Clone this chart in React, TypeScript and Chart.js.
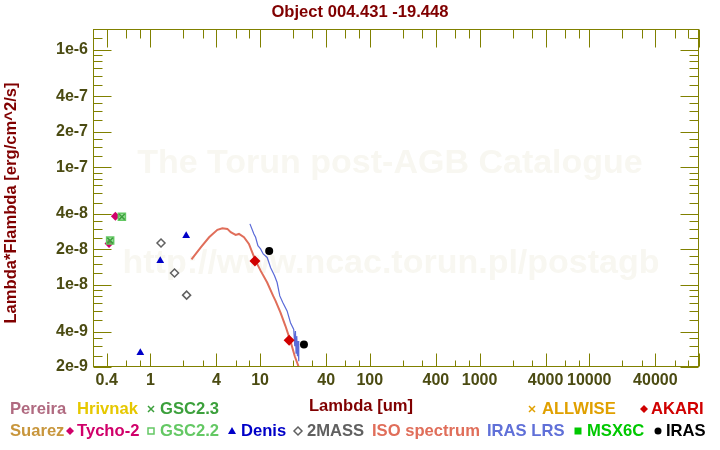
import React, { useEffect, useRef } from "react";
import { Chart, registerables } from "chart.js";

Chart.register(...registerables);

// ---------- text ----------
const TITLE = "Object 004.431 -19.448";
const X_TITLE = "Lambda [um]";
const Y_TITLE = "Lambda*Flambda [erg/cm^2/s]";
const WATERMARK_1 = "The Torun post-AGB Catalogue";
const WATERMARK_2 = "http://www.ncac.torun.pl/postagb";

// ---------- axes ----------
const X_MIN = 0.327;
const X_MAX = 1e5;
const Y_MIN = 2e-9;
const Y_MAX = 1.5e-6;
const X_TICK_VALUES = [0.4, 1, 4, 10, 40, 100, 400, 1000, 4000, 10000, 40000];
const X_TICK_TEXT = ["0.4", "1", "4", "10", "40", "100", "400", "1000", "4000", "10000", "40000"];
const Y_TICK_VALUES = [1e-6, 4e-7, 2e-7, 1e-7, 4e-8, 2e-8, 1e-8, 4e-9, 2e-9];
const Y_TICK_TEXT = ["1e-6", "4e-7", "2e-7", "1e-7", "4e-8", "2e-8", "1e-8", "4e-9", "2e-9"];
const X_MINOR_MULT = [2, 3, 6, 8];
const Y_MINOR_MULT = [1.25, 1.5, 1.75, 2.5, 3, 3.5, 5, 6, 7, 8, 9];

// ---------- photometry ----------
const tychoWave = [0.42, 0.48];
const tychoFlux = [2.25e-8, 3.84e-8];
const gsc22Wave = [0.43, 0.55];
const gsc22Flux = [2.38e-8, 3.79e-8];
const gsc23Wave = [0.43, 0.55];
const gsc23Flux = [2.38e-8, 3.79e-8];
const denisWave = [0.81, 1.23, 2.12];
const denisFlux = [2.64e-9, 1.6e-8, 2.62e-8];
const twoMassWave = [1.25, 1.66, 2.14];
const twoMassFlux = [2.27e-8, 1.26e-8, 8.17e-9];
const akariWave = [8.97, 18.4];
const akariFlux = [1.595e-8, 3.37e-9];
const irasWave = [12.1, 25.1];
const irasFlux = [1.94e-8, 3.11e-9];

// ---------- spectra ----------
const isoWave = [2.37, 2.88, 3.43, 4.08, 4.53, 5.03, 5.4, 5.99, 6.42, 7.13, 7.91, 8.48, 9.1, 10.1, 11.6, 13.15, 13.83, 15.35, 17.03, 18.92, 20.7, 22.5];
const isoFlux = [1.645e-8, 2.084e-8, 2.537e-8, 2.935e-8, 3.03e-8, 2.99e-8, 2.8e-8, 2.66e-8, 2.71e-8, 2.54e-8, 2.23e-8, 1.89e-8, 1.6e-8, 1.32e-8, 1.046e-8, 8.05e-9, 7.3e-9, 5.8e-9, 4.46e-9, 3.32e-9, 2.47e-9, 2.0e-9];
const lrsWave = [8.08, 8.78, 9.1, 9.55, 10.1, 10.67, 11.6, 12.45, 13.54, 14.29, 15.12, 16.1, 17.62, 18.92, 20.26, 20.7, 21.0, 21.26, 21.58, 21.9, 22.17, 22.5];
const lrsFlux = [3.3e-8, 2.71e-8, 2.54e-8, 2.15e-8, 2.02e-8, 1.83e-8, 1.71e-8, 1.406e-8, 1.194e-8, 1.046e-8, 8.05e-9, 7.06e-9, 6.0e-9, 4.76e-9, 4.18e-9, 3.01e-9, 4.04e-9, 2.62e-9, 3.66e-9, 2.47e-9, 3.32e-9, 2.24e-9];

const FONT = "'Liberation Sans', Arial, sans-serif";
const AXIS_COLOR = "#808000";
const TICK_TEXT_COLOR = "#4b4b12";
const TITLE_COLOR = "#800000";

const pts = (xs: number[], ys: number[]) => xs.map((x, i) => ({ x, y: ys[i] }));

function ticksFor(min: number, max: number, mults: number[]) {
  const out: number[] = [];
  for (let d = Math.floor(Math.log10(min)) - 1; d <= Math.ceil(Math.log10(max)); d++) {
    for (const m of mults) {
      const v = m * Math.pow(10, d);
      if (v >= min * 0.999 && v <= max * 1.001) out.push(v);
    }
  }
  return out;
}

function drawSymbol(ctx: CanvasRenderingContext2D, kind: string, x: number, y: number, color: string) {
  ctx.save();
  ctx.fillStyle = color;
  ctx.strokeStyle = color;
  ctx.lineWidth = 1.5;
  ctx.beginPath();
  if (kind === "cross") {
    ctx.moveTo(x - 3, y - 3); ctx.lineTo(x + 3, y + 3);
    ctx.moveTo(x + 3, y - 3); ctx.lineTo(x - 3, y + 3);
    ctx.stroke();
  } else if (kind === "diamond") {
    ctx.moveTo(x, y - 4); ctx.lineTo(x + 4, y); ctx.lineTo(x, y + 4); ctx.lineTo(x - 4, y); ctx.closePath();
    ctx.fill();
  } else if (kind === "hdiamond") {
    ctx.moveTo(x, y - 4); ctx.lineTo(x + 4, y); ctx.lineTo(x, y + 4); ctx.lineTo(x - 4, y); ctx.closePath();
    ctx.stroke();
  } else if (kind === "hsquare") {
    ctx.rect(x - 3, y - 3, 6, 6);
    ctx.stroke();
  } else if (kind === "square") {
    ctx.rect(x - 3.5, y - 3.5, 7, 7);
    ctx.fill();
  } else if (kind === "triangle") {
    ctx.moveTo(x, y - 4); ctx.lineTo(x + 4, y + 3); ctx.lineTo(x - 4, y + 3); ctx.closePath();
    ctx.fill();
  } else if (kind === "circle") {
    ctx.arc(x, y, 3.5, 0, Math.PI * 2);
    ctx.fill();
  }
  ctx.restore();
}

const decorPlugin = {
  id: "decor",
  beforeDatasetsDraw(chart: any) {
    const ctx: CanvasRenderingContext2D = chart.ctx;
    ctx.save();
    ctx.fillStyle = "#f8f7f1";
    ctx.font = `bold 34px ${FONT}`;
    ctx.textAlign = "center";
    ctx.textBaseline = "middle";
    ctx.fillText(WATERMARK_1, 390, 164);
    ctx.fillText(WATERMARK_2, 391, 264);
    ctx.restore();
  },
  afterDraw(chart: any) {
    const ctx: CanvasRenderingContext2D = chart.ctx;
    const xs = chart.scales.x;
    const ys = chart.scales.y;
    const { left, right, top, bottom } = chart.chartArea;
    const L = Math.round(left) + 0.5;
    const R = Math.round(right) - 0.5;
    const T = Math.round(top) + 0.5;
    const B = Math.round(bottom) - 0.5;
    ctx.save();
    ctx.strokeStyle = AXIS_COLOR;
    ctx.lineWidth = 1;
    ctx.strokeRect(L, T, R - L, B - T);
    ctx.beginPath();
    // x ticks
    const xMajor = ticksFor(X_MIN, X_MAX, [1, 4]);
    const xMinor = ticksFor(X_MIN, X_MAX, X_MINOR_MULT);
    for (const v of xMajor) {
      const p = Math.round(xs.getPixelForValue(v)) + 0.5;
      ctx.moveTo(p, B); ctx.lineTo(p, B - 13);
      ctx.moveTo(p, T); ctx.lineTo(p, T + 18);
    }
    for (const v of xMinor) {
      const p = Math.round(xs.getPixelForValue(v)) + 0.5;
      ctx.moveTo(p, B); ctx.lineTo(p, B - 6);
      ctx.moveTo(p, T); ctx.lineTo(p, T + 9);
    }
    // y ticks
    const yMajor = ticksFor(Y_MIN, Y_MAX, [1, 2, 4]);
    const yMinor = ticksFor(Y_MIN, Y_MAX, Y_MINOR_MULT);
    for (const v of yMajor) {
      const p = Math.round(ys.getPixelForValue(v)) + 0.5;
      ctx.moveTo(L, p); ctx.lineTo(L + 18, p);
      ctx.moveTo(R, p); ctx.lineTo(R - 18, p);
    }
    for (const v of yMinor) {
      const p = Math.round(ys.getPixelForValue(v)) + 0.5;
      ctx.moveTo(L, p); ctx.lineTo(L + 9, p);
      ctx.moveTo(R, p); ctx.lineTo(R - 9, p);
    }
    ctx.stroke();

    // tick labels
    ctx.fillStyle = TICK_TEXT_COLOR;
    ctx.font = `bold 16px ${FONT}`;
    ctx.textBaseline = "middle";
    ctx.textAlign = "center";
    X_TICK_VALUES.forEach((v, i) => {
      ctx.fillText(X_TICK_TEXT[i], xs.getPixelForValue(v), 381);
    });
    ctx.textAlign = "right";
    Y_TICK_VALUES.forEach((v, i) => {
      ctx.fillText(Y_TICK_TEXT[i], 88, ys.getPixelForValue(v));
    });

    // titles
    ctx.font = `bold 16.6px ${FONT}`;
    ctx.fillStyle = TITLE_COLOR;
    ctx.textAlign = "center";
    ctx.fillText(TITLE, 360, 12);
    ctx.fillText(X_TITLE, 361, 406);
    ctx.save();
    ctx.translate(11, 203);
    ctx.rotate(-Math.PI / 2);
    ctx.fillText(Y_TITLE, 0, 0);
    ctx.restore();

    // legend
    ctx.textAlign = "left";
    const row1 = 409;
    const row2 = 431;
    const txt = (s: string, x: number, y: number, c: string) => {
      ctx.fillStyle = c;
      ctx.fillText(s, x, y);
    };
    txt("Pereira", 10, row1, "#b06a80");
    txt("Hrivnak", 77, row1, "#e6c800");
    drawSymbol(ctx, "cross", 151, row1, "#3ca03c");
    txt("GSC2.3", 160, row1, "#3ca03c");
    drawSymbol(ctx, "cross", 532, row1, "#e0a000");
    txt("ALLWISE", 542, row1, "#e0a000");
    drawSymbol(ctx, "diamond", 644, row1, "#d00000");
    txt("AKARI", 651, row1, "#d00000");

    txt("Suarez", 10, row2, "#c8963c");
    drawSymbol(ctx, "diamond", 70, row2, "#d0006a");
    txt("Tycho-2", 77, row2, "#d0006a");
    drawSymbol(ctx, "hsquare", 151, row2, "#64c864");
    txt("GSC2.2", 160, row2, "#64c864");
    drawSymbol(ctx, "triangle", 232, row2, "#0000c8");
    txt("Denis", 241, row2, "#0000c8");
    drawSymbol(ctx, "hdiamond", 298, row2, "#606060");
    txt("2MASS", 307, row2, "#606060");
    txt("ISO spectrum", 372, row2, "#e06e5a");
    txt("IRAS LRS", 487, row2, "#6070d8");
    drawSymbol(ctx, "square", 578, row2, "#00c800");
    txt("MSX6C", 587, row2, "#00c800");
    drawSymbol(ctx, "circle", 658, row2, "#000000");
    txt("IRAS", 666, row2, "#000000");
    ctx.restore();
  },
};

export default function App() {
  const canvasRef = useRef<HTMLCanvasElement | null>(null);

  useEffect(() => {
    if (!canvasRef.current) return;
    const chart = new Chart(canvasRef.current, {
      type: "scatter",
      data: {
        datasets: [
          { label: "IRAS", data: pts(irasWave, irasFlux), pointStyle: "circle", pointRadius: 4, backgroundColor: "#000000", borderColor: "#000000", borderWidth: 0 },
          { label: "AKARI", data: pts(akariWave, akariFlux), pointStyle: "rectRot", pointRadius: 5.5, backgroundColor: "#d00000", borderColor: "#d00000", borderWidth: 0 },
          { label: "GSC2.3", data: pts(gsc23Wave, gsc23Flux), pointStyle: "crossRot", pointRadius: 4, backgroundColor: "#3ca03c", borderColor: "#3ca03c", borderWidth: 1.5 },
          { label: "GSC2.2", data: pts(gsc22Wave, gsc22Flux), pointStyle: "rect", pointRadius: 5, backgroundColor: "rgba(100,200,100,0.6)", borderColor: "#64c864", borderWidth: 1.5 },
          { label: "Tycho-2", data: pts(tychoWave, tychoFlux), pointStyle: "rectRot", pointRadius: 4.5, backgroundColor: "#d0006a", borderColor: "#d0006a", borderWidth: 0 },
          { label: "Denis", data: pts(denisWave, denisFlux), pointStyle: "triangle", pointRadius: 4.5, backgroundColor: "#0000c8", borderColor: "#0000c8", borderWidth: 0 },
          { label: "2MASS", data: pts(twoMassWave, twoMassFlux), pointStyle: "rectRot", pointRadius: 4, backgroundColor: "#ffffff", borderColor: "#606060", borderWidth: 1.5 },
          { label: "IRAS LRS", data: pts(lrsWave, lrsFlux), showLine: true, pointRadius: 0, borderColor: "#5a6ad8", borderWidth: 1.2, tension: 0 },
          { label: "ISO spectrum", data: pts(isoWave, isoFlux), showLine: true, pointRadius: 0, borderColor: "#e06e5a", borderWidth: 2, tension: 0 },
        ],
      },
      options: {
        responsive: false,
        animation: false,
        devicePixelRatio: 1,
        layout: { padding: { left: 93, right: 21, top: 29, bottom: 83 } },
        plugins: { legend: { display: false }, tooltip: { enabled: false }, title: { display: false } },
        scales: {
          x: { type: "logarithmic", min: X_MIN, max: X_MAX, display: false },
          y: { type: "logarithmic", min: Y_MIN, max: Y_MAX, display: false },
        },
      },
      plugins: [decorPlugin],
    } as any);
    return () => chart.destroy();
  }, []);

  return (
    <div style={{ position: "fixed", left: 0, top: 0, width: 720, height: 450, background: "#ffffff" }}>
      <canvas ref={canvasRef} width={720} height={450} style={{ display: "block", width: 720, height: 450 }} />
    </div>
  );
}
